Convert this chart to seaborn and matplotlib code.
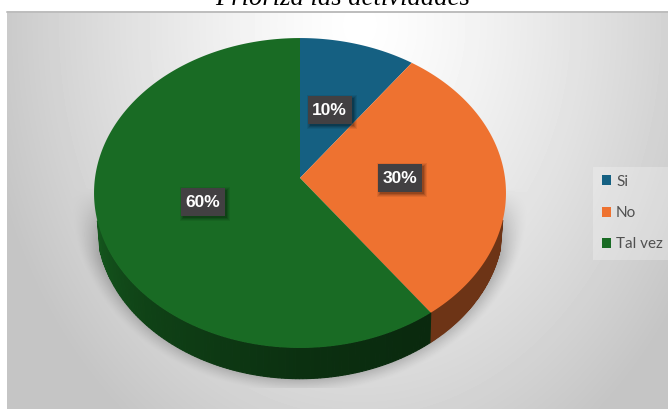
import numpy as np
import matplotlib
matplotlib.use("Agg")
import matplotlib.pyplot as plt
from matplotlib.patches import Patch, Rectangle
import seaborn as sns

# Survey answers
categories = ["Si", "No", "Tal vez"]
percent_values = [10, 30, 60]
title_text = "Prioriza las actividades"

colors = ["#156082", "#EE7230", "#196B24"]

sns.set_theme(style="white")
fig = plt.figure(figsize=(6.68, 4.09), dpi=100, facecolor="white")
ax = fig.add_axes([0, 0, 1, 1])
ax.set_xlim(0, 668)
ax.set_ylim(409, 0)
ax.axis("off")

# Tilted disc: a circle seen in perspective
CX, CY, BX, AY, K = 300.0, 178.0, 205.0, 153.5, 0.0968


def project(theta, frac=1.0, cx=CX, cy=CY, bx=BX, ay=AY, k=K):
    """Map clockwise-from-top angle and radius fraction to canvas position."""
    u, v = frac * np.sin(theta), frac * np.cos(theta)
    d = 1 + k * v
    return cx + bx * u / d, cy - ay * v / d


# Panel background with a soft light centre
xx, yy = np.meshgrid(np.arange(7, 668) + 0.5, np.arange(12, 409) + 0.5)
r = np.hypot((xx - 360) / 400, (yy - 25) / 520)
shade = 255 - 62 * np.clip(r, 0, 0.95) ** 1.3

# Blurred drop shadow underneath the disc
q = np.hypot((xx - 300) / 228, (yy - 205) / 188)
sh = 0.48 * np.clip((1.0 - q) / 0.11, 0, 1) ** 1.3 * np.clip((yy - 188) / 70, 0, 1)
sh = sh * (yy < 388)
shade = shade * (1 - sh) + 70 * sh
ax.imshow(shade, cmap="gray", vmin=0, vmax=255, extent=(7, 668, 409, 12),
          aspect="auto", zorder=0, interpolation="bilinear")
ax.set_xlim(0, 668)
ax.set_ylim(409, 0)
ax.plot([7, 668], [12, 12], color="#bdbdbd", lw=1.4, zorder=1)

# Slice boundaries, clockwise from twelve o'clock
shares = np.array(percent_values, dtype=float) / sum(percent_values)
edges = np.concatenate([[0], np.cumsum(shares)]) * 2 * np.pi

# Rim of the disc, dark toward the front
bottom = dict(cx=CX, cy=207.0, bx=202.0, ay=AY, k=0.106)
for i, col in enumerate(colors):
    angles = np.linspace(edges[i], edges[i + 1], 240)
    base = np.array(matplotlib.colors.to_rgb(col))
    for a0, a1 in zip(angles[:-1], angles[1:]):
        if np.cos(0.5 * (a0 + a1)) > -0.27:
            continue
        mid = np.degrees(0.5 * (a0 + a1))
        f = 0.46 if col == colors[1] else np.interp(mid, [144, 180, 225, 262], [0.38, 0.45, 0.62, 0.85])
        x0, y0 = project(a0)
        x1, y1 = project(a1)
        x2, y2 = project(a1, **bottom)
        x3, y3 = project(a0, **bottom)
        ax.fill([x0, x1, x2, x3], [y0, y1, y2, y3], facecolor=base * f,
                edgecolor=base * f, lw=0.8, zorder=2)

# Top face of each slice
for i, col in enumerate(colors):
    angles = np.linspace(edges[i], edges[i + 1], 240)
    xs, ys = project(angles)
    ax.fill(np.r_[CX, xs], np.r_[CY, ys], color=col, lw=0, zorder=3)

# Percentage labels on dark plates with a soft shadow
BOX_W, BOX_H = 44, 28
for i, val in enumerate(percent_values):
    x, y = project(0.5 * (edges[i] + edges[i + 1]), frac=0.49)
    for grow, a in ((3, 0.07), (2, 0.09), (1, 0.12), (0, 0.16)):
        ax.add_patch(Rectangle((x - BOX_W / 2 + 2 - grow, y - BOX_H / 2 + 2 - grow),
                               BOX_W + 2 * grow, BOX_H + 2 * grow,
                               facecolor="black", alpha=a, lw=0, zorder=4))
    ax.add_patch(Rectangle((x - BOX_W / 2, y - BOX_H / 2), BOX_W, BOX_H,
                           facecolor="#424042", lw=0, zorder=4.5))
    ax.text(x, y + 0.5, f"{val}%", color="white", fontsize=12.5, fontweight="bold",
            family="Liberation Sans", ha="center", va="center", zorder=5)

# Legend on its pale panel
ax.add_patch(Rectangle((593, 167), 75, 93, facecolor="white", alpha=0.25, lw=0, zorder=4))
handles = [Patch(facecolor=c, edgecolor="none") for c in colors]
ax.legend(handles, categories, loc="center left", bbox_to_anchor=(602 / 668, 1 - 213 / 409),
          frameon=False, prop={"family": "Lato", "size": 11}, labelcolor="#505050",
          handlelength=0.62, handleheight=0.62, handletextpad=0.3, labelspacing=1.13,
          borderpad=0, borderaxespad=0).set_zorder(6)

# Heading, partly running off the top edge
ax.text(343, 5, title_text, family="Liberation Serif", style="italic", fontsize=19.2,
        color="black", ha="center", va="baseline", zorder=6, clip_on=False)

fig.savefig("out.png", dpi=100, facecolor="white")
